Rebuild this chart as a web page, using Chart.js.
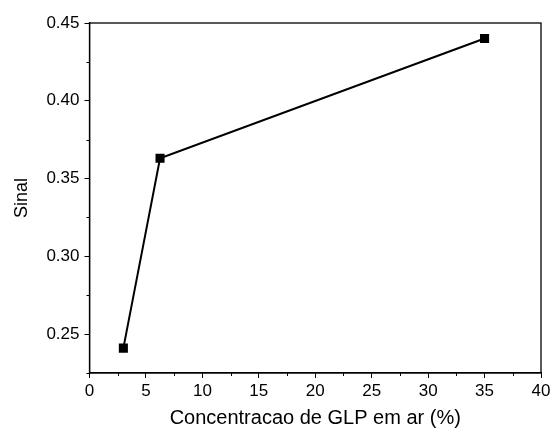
<!DOCTYPE html>
<html>
<head>
<meta charset="utf-8">
<script src="https://cdn.jsdelivr.net/npm/chart.js@4.4.0/dist/chart.umd.min.js"></script>
<style>
html,body{margin:0;padding:0;background:#fff;}
#wrap{width:550px;height:430px;}
</style>
</head>
<body>
<div id="wrap"><canvas id="c" width="550" height="430"></canvas></div>
<script>
const concentracao = [3, 6.25, 35];
const sinal = [0.241, 0.363, 0.44];
const xTicks = [0, 5, 10, 15, 20, 25, 30, 35, 40];
const yTicks = [0.25, 0.30, 0.35, 0.40, 0.45];
const xMinor = [2.5, 7.5, 12.5, 17.5, 22.5, 27.5, 32.5, 37.5];
const yMinor = [0.225, 0.275, 0.325, 0.375, 0.425];

const FONT = "'Liberation Sans', Arial, sans-serif";

const framePlugin = {
  id: 'frame',
  afterDraw(chart) {
    const {ctx, chartArea: a, scales} = chart;
    ctx.save();
    ctx.strokeStyle = '#000';
    ctx.lineWidth = 1.3;
    ctx.strokeRect(a.left, a.top, a.right - a.left, a.bottom - a.top);
    ctx.lineWidth = 1;
    ctx.beginPath();
    xMinor.forEach(v => {
      const px = Math.round(scales.x.getPixelForValue(v)) + 0.5;
      ctx.moveTo(px, a.bottom);
      ctx.lineTo(px, a.bottom + 3);
    });
    yMinor.forEach(v => {
      const py = Math.round(scales.y.getPixelForValue(v)) + 0.5;
      ctx.moveTo(a.left, py);
      ctx.lineTo(a.left - 3, py);
    });
    ctx.stroke();
    ctx.restore();
  }
};

new Chart(document.getElementById('c'), {
  type: 'scatter',
  data: {
    datasets: [{
      data: concentracao.map((x, i) => ({x: x, y: sinal[i]})),
      showLine: true,
      borderColor: '#000',
      backgroundColor: '#000',
      borderWidth: 2,
      pointStyle: 'rect',
      pointRadius: 5,
      pointHoverRadius: 5,
      tension: 0
    }]
  },
  options: {
    responsive: false,
    animation: false,
    devicePixelRatio: 1,
    layout: {padding: {top: 23, right: 9, left: 0, bottom: 0}},
    plugins: {legend: {display: false}, tooltip: {enabled: false}},
    scales: {
      x: {
        type: 'linear',
        min: 0, max: 40,
        afterBuildTicks: s => { s.ticks = xTicks.map(v => ({value: v})); },
        afterFit: s => { s.height = 57; s.paddingRight = 0; s.paddingLeft = 0; },
        ticks: {color: '#000', font: {family: FONT, size: 17}, padding: 3, maxRotation: 0,
          callback: v => String(v)},
        grid: {drawOnChartArea: false, drawTicks: true, tickLength: 5, color: '#000', tickColor: '#000', tickWidth: 1},
        border: {display: true, color: '#000', width: 1.3},
        title: {display: true, text: 'Concentracao de GLP em ar (%)', color: '#000',
          font: {family: FONT, size: 20}, padding: {top: 6, bottom: 0}}
      },
      y: {
        type: 'linear',
        min: 0.225, max: 0.45,
        afterBuildTicks: s => { s.ticks = yTicks.map(v => ({value: v})); },
        afterFit: s => { s.width = 89.5; },
        ticks: {color: '#000', font: {family: FONT, size: 17}, padding: 5,
          callback: v => v.toFixed(2)},
        grid: {drawOnChartArea: false, drawTicks: true, tickLength: 5, color: '#000', tickColor: '#000', tickWidth: 1},
        border: {display: true, color: '#000', width: 1.3},
        title: {display: true, text: 'Sinal', color: '#000',
          font: {family: FONT, size: 18}, padding: {top: 11, bottom: 0}}
      }
    }
  },
  plugins: [framePlugin]
});
</script>
</body>
</html>
